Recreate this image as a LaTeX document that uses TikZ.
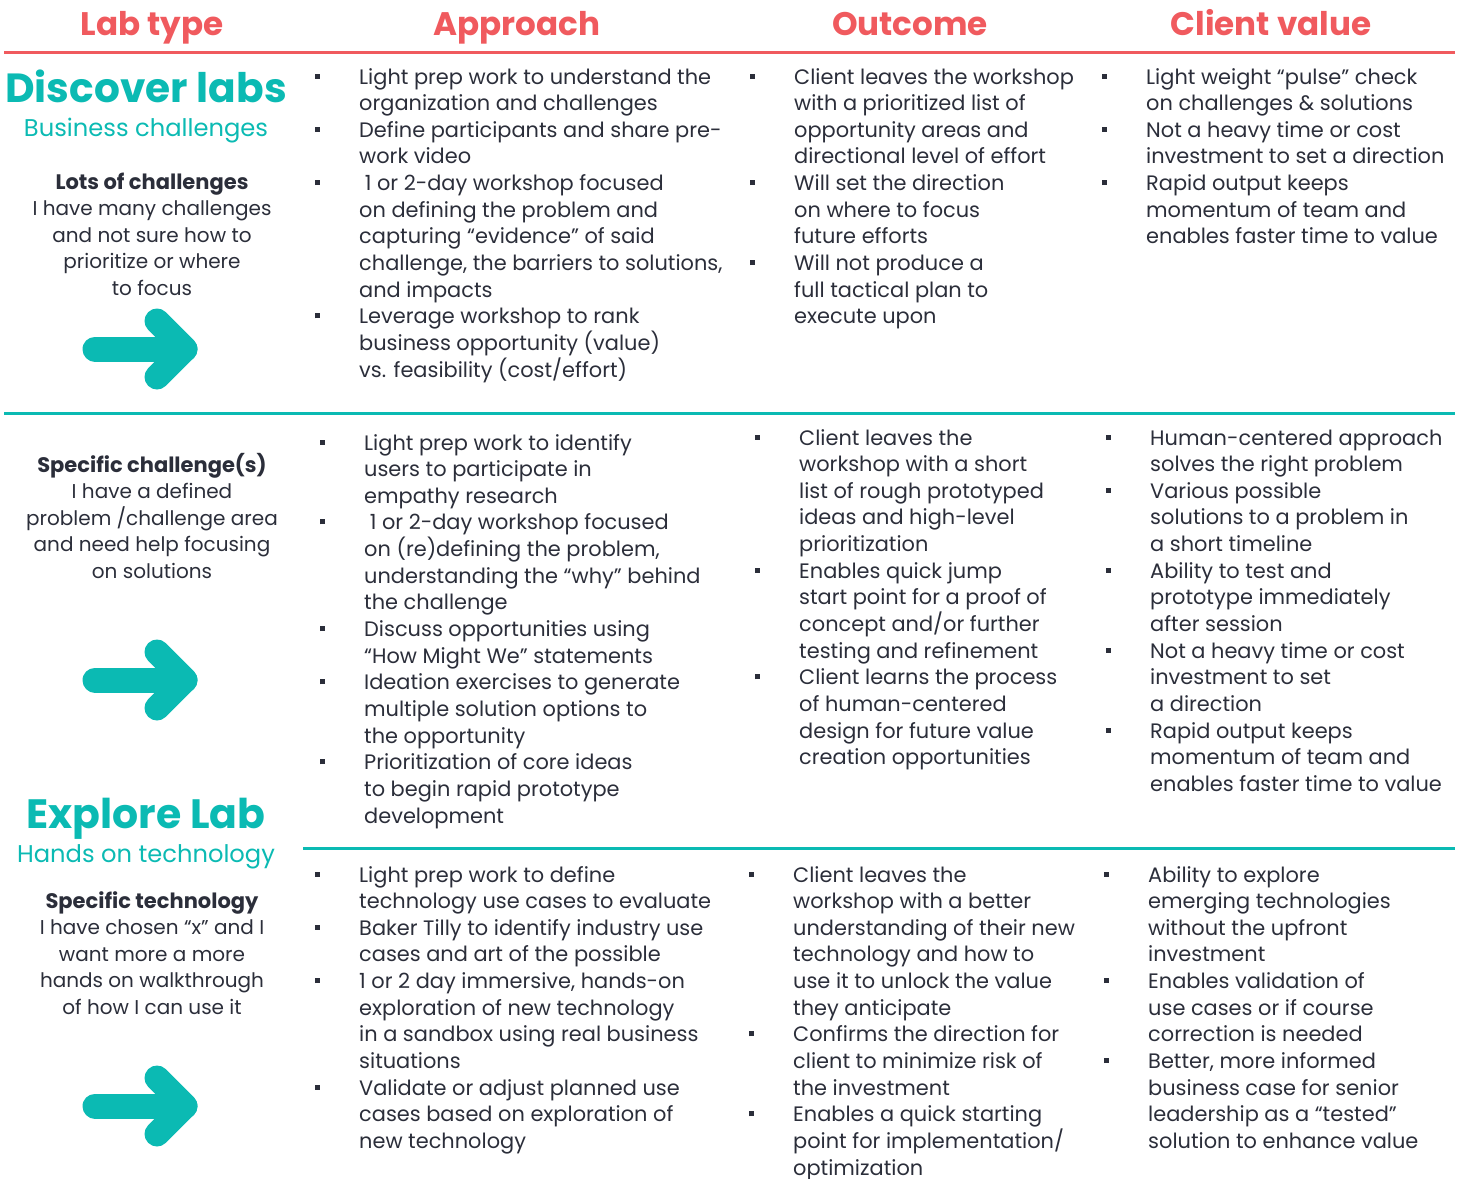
\documentclass[tikz,border=0pt]{standalone}
\usepackage{fontspec}
\setmainfont{Poppins}
\definecolor{labred}{HTML}{F05A5E}
\definecolor{labteal}{HTML}{0BBAB3}
\definecolor{labtext}{HTML}{2B2E3A}

\newcommand\bodyfont{\fontsize{20}{26.65}\selectfont}
\newcommand\listfont{\fontsize{20.9}{26.65}\selectfont}
\newcommand\bsq{\textcolor{labtext}{\rule[5.5pt]{5pt}{5pt}}}
\newenvironment{blist}{\begin{list}{\bsq}{\setlength\leftmargin{44pt}\setlength\labelwidth{44pt}%
  \setlength\labelsep{0pt}\setlength\itemsep{0pt}\setlength\parsep{0pt}%
  \setlength\topsep{0pt}\setlength\partopsep{0pt}\def\makelabel##1{##1\hfil}}}{\end{list}}
\newcommand\bcol[1]{\begin{minipage}[t]{440pt}\raggedright\begin{blist}#1\end{blist}\end{minipage}}
\newcommand\ccol[1]{\parbox[t]{300pt}{\centering #1}}

\begin{document}
\begin{tikzpicture}[x=1pt, y=-1pt,
    head/.style={anchor=base, inner sep=0, text=labred, font=\fontsize{32.6}{38}\selectfont\bfseries},
    lab/.style={anchor=base, inner sep=0, text=labteal, font=\fontsize{40.7}{46}\selectfont\bfseries},
    sub/.style={anchor=base, inner sep=0, text=labteal, font=\fontsize{24.2}{28}\selectfont},
    who/.style={anchor=base, inner sep=0, text=labtext, font=\bodyfont},
    col/.style={anchor=base west, inner sep=0, text=labtext, font=\listfont},
    redline/.style={draw=labred, line width=3pt},
    tealline/.style={draw=labteal, line width=3pt},
    go/.style={draw=labteal, line width=25pt, line cap=round, line join=round}]
  \useasboundingbox (0,0) rectangle (1461,1178);

  % column heads
  \node[head] (labtype) at (152,35) {Lab type};
  \node[head] (approach) at (517,35) {Approach};
  \node[head] (outcome) at (910,35) {Outcome};
  \node[head] (value) at (1271,35) {Client value};
  \draw[redline] (4,52) -- (1455,52);

  % discover labs
  \node[lab] (discover) at (146,102) {Discover labs};
  \node[sub] (business) at (146,136) {Business challenges};
  \node[who] (lots) at (152,189) {\ccol{{\fontsize{21}{26.65}\selectfont\textbf{Lots of challenges}}\\ I have many challenges\\ and not sure how to\\ prioritize or where\\ to focus}};
  \draw[go] (95,349) -- (185,349);
  \draw[go] (157,321) -- (185,349) -- (157,377);

  \node[col] (appr1) at (315,84) {\bcol{%
    \item Light prep work to understand the\\ organization and challenges
    \item Define participants and share pre-\\ work video
    \item \ 1 or 2-day workshop focused\\ on defining the problem and\\ capturing “evidence” of said\\ challenge, the barriers to solutions,\\ and impacts
    \item Leverage workshop to rank\\ business opportunity (value)\\ vs. feasibility (cost/effort)}};
  \node[col] (out1) at (750,84) {\bcol{%
    \item Client leaves the workshop\\ with a prioritized list of\\ opportunity areas and\\ directional level of effort
    \item Will set the direction\\ on where to focus\\ future efforts
    \item Will not produce a\\ full tactical plan to\\ execute upon}};
  \node[col] (val1) at (1102,84) {\bcol{%
    \item Light weight “pulse” check\\ on challenges \& solutions
    \item Not a heavy time or cost\\ investment to set a direction
    \item Rapid output keeps\\ momentum of team and\\ enables faster time to value}};
  \draw[tealline] (4,413) -- (1455,413);

  % explore lab, specific challenge
  \node[who] (challenge) at (152,472) {\ccol{{\fontsize{21}{26.65}\selectfont\textbf{Specific challenge(s)}}\\ I have a defined\\ problem /challenge area\\ and need help focusing\\ on solutions}};
  \draw[go] (95,680) -- (185,680);
  \draw[go] (157,652) -- (185,680) -- (157,708);

  \node[col] (appr2) at (320,450) {\bcol{%
    \item Light prep work to identify\\ users to participate in\\ empathy research
    \item \ 1 or 2-day workshop focused\\ on (re)defining the problem,\\ understanding the “why” behind\\ the challenge
    \item Discuss opportunities using\\ “How Might We” statements
    \item Ideation exercises to generate\\ multiple solution options to\\ the opportunity
    \item Prioritization of core ideas\\ to begin rapid prototype\\ development}};
  \node[col] (out2) at (755,445) {\bcol{%
    \item Client leaves the\\ workshop with a short\\ list of rough prototyped\\ ideas and high-level\\ prioritization
    \item Enables quick jump\\ start point for a proof of\\ concept and/or further\\ testing and refinement
    \item Client learns the process\\ of human-centered\\ design for future value\\ creation opportunities}};
  \node[col] (val2) at (1106,445) {\bcol{%
    \item Human-centered approach\\ solves the right problem
    \item Various possible\\ solutions to a problem in\\ a short timeline
    \item Ability to test and\\ prototype immediately\\ after session
    \item Not a heavy time or cost\\ investment to set\\ a direction
    \item Rapid output keeps\\ momentum of team and\\ enables faster time to value}};

  % explore lab, specific technology
  \node[lab, font=\fontsize{41}{46}\selectfont\bfseries] (explore) at (146,828) {Explore Lab};
  \node[sub] (hands) at (146,862) {Hands on technology};
  \draw[tealline] (303,848) -- (1455,848);
  \node[who] (tech) at (152,908) {\ccol{{\fontsize{21}{26.65}\selectfont\textbf{Specific technology}}\\ I have chosen “x” and I\\ want more a more\\ hands on walkthrough\\ of how I can use it}};
  \draw[go] (95,1106) -- (185,1106);
  \draw[go] (157,1078) -- (185,1106) -- (157,1134);

  \node[col] (appr3) at (315,882) {\bcol{%
    \item Light prep work to define\\ technology use cases to evaluate
    \item Baker Tilly to identify industry use\\ cases and art of the possible
    \item 1 or 2 day immersive, hands-on\\ exploration of new technology\\ in a sandbox using real business\\ situations
    \item Validate or adjust planned use\\ cases based on exploration of\\ new technology}};
  \node[col] (out3) at (749,882) {\bcol{%
    \item Client leaves the\\ workshop with a better\\ understanding of their new\\ technology and how to\\ use it to unlock the value\\ they anticipate
    \item Confirms the direction for\\ client to minimize risk of\\ the investment
    \item Enables a quick starting\\ point for implementation/\\ optimization}};
  \node[col] (val3) at (1104,882) {\bcol{%
    \item Ability to explore\\ emerging technologies\\ without the upfront\\ investment
    \item Enables validation of\\ use cases or if course\\ correction is needed
    \item Better, more informed\\ business case for senior\\ leadership as a “tested”\\ solution to enhance value}};
\end{tikzpicture}
\end{document}
